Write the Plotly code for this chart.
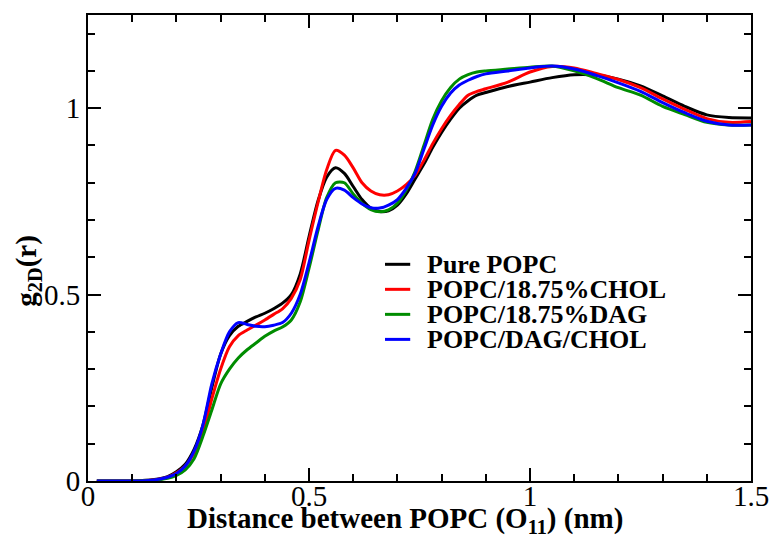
import plotly.graph_objects as go

x_nm = [0.02, 0.05, 0.1, 0.15, 0.18, 0.2, 0.22, 0.24, 0.26, 0.28, 0.3, 0.32, 0.34, 0.36, 0.38,
        0.4, 0.42, 0.44, 0.46, 0.48, 0.5, 0.52, 0.54, 0.56, 0.58, 0.6, 0.62, 0.64, 0.66, 0.68,
        0.7, 0.72, 0.74, 0.76, 0.78, 0.8, 0.82, 0.84, 0.86, 0.88, 0.9, 0.95, 1.0, 1.05, 1.1,
        1.15, 1.2, 1.25, 1.3, 1.35, 1.4, 1.45, 1.5]

pure_popc = [0, 0, 0, 0.004, 0.012, 0.025, 0.045, 0.085, 0.15, 0.25, 0.34, 0.39, 0.415, 0.428, 0.44,
             0.45, 0.462, 0.477, 0.5, 0.555, 0.655, 0.75, 0.815, 0.84, 0.825, 0.79, 0.755, 0.732, 0.723, 0.725,
             0.74, 0.77, 0.81, 0.85, 0.895, 0.935, 0.97, 1.0, 1.02, 1.035, 1.042, 1.058, 1.07, 1.082, 1.09,
             1.089, 1.078, 1.06, 1.033, 1.005, 0.982, 0.975, 0.974]

popc_chol = [0, 0, 0, 0.003, 0.01, 0.022, 0.04, 0.075, 0.13, 0.22, 0.3, 0.36, 0.39, 0.405, 0.418,
             0.432, 0.447, 0.462, 0.49, 0.54, 0.645, 0.745, 0.835, 0.887, 0.874, 0.84, 0.8, 0.778, 0.768, 0.768,
             0.778, 0.795, 0.82, 0.86, 0.905, 0.945, 0.98, 1.01, 1.035, 1.045, 1.052, 1.07, 1.097, 1.112, 1.108,
             1.093, 1.077, 1.055, 1.025, 0.997, 0.972, 0.962, 0.964]

popc_dag = [0, 0, 0, 0.002, 0.007, 0.015, 0.03, 0.06, 0.12, 0.19, 0.26, 0.3, 0.33, 0.352, 0.37,
            0.388, 0.402, 0.413, 0.432, 0.48, 0.57, 0.67, 0.76, 0.8, 0.8, 0.77, 0.745, 0.728, 0.722, 0.727,
            0.745, 0.78, 0.83, 0.9, 0.97, 1.02, 1.055, 1.078, 1.09, 1.097, 1.1, 1.105, 1.11, 1.113, 1.1,
            1.08, 1.055, 1.035, 1.005, 0.983, 0.962, 0.955, 0.955]

popc_dag_chol = [0, 0, 0, 0.003, 0.01, 0.02, 0.04, 0.08, 0.15, 0.26, 0.34, 0.4, 0.425, 0.42, 0.415,
                 0.414, 0.418, 0.425, 0.45, 0.5, 0.585, 0.68, 0.755, 0.785, 0.78, 0.76, 0.743, 0.733, 0.732, 0.74,
                 0.755, 0.785, 0.825, 0.89, 0.955, 1.005, 1.04, 1.062, 1.075, 1.085, 1.092, 1.1, 1.108, 1.113, 1.105,
                 1.088, 1.068, 1.045, 1.015, 0.988, 0.965, 0.955, 0.955]

series_names = ["Pure POPC", "POPC/18.75%CHOL", "POPC/18.75%DAG", "POPC/DAG/CHOL"]
series_values = [pure_popc, popc_chol, popc_dag, popc_dag_chol]
series_colors = ["#000000", "#ff0000", "#008c00", "#0000ff"]

x_tickvals = [0, 0.5, 1, 1.5]
x_ticktext = ["0", "0.5", "1", "1.5"]
y_tickvals = [0, 0.5, 1]
y_ticktext = ["0", "0.5", "1"]

serif = "Liberation Serif, Times New Roman, serif"

fig = go.Figure()
for name, vals, col in zip(series_names, series_values, series_colors):
    fig.add_trace(go.Scatter(x=x_nm, y=vals, mode="lines", name=name, showlegend=False,
                             line=dict(color=col, width=3, shape="spline", smoothing=0.8)))

# legend drawn as line samples + text in paper coordinates
leg_x0, leg_x1, leg_tx = 0.448, 0.486, 0.508
leg_y_top, leg_dy = 0.465, 0.0537
for i, (name, col) in enumerate(zip(series_names, series_colors)):
    yy = leg_y_top - i * leg_dy
    fig.add_shape(type="line", xref="paper", yref="paper", x0=leg_x0, x1=leg_x1, y0=yy, y1=yy,
                  line=dict(color=col, width=3))
    fig.add_annotation(xref="paper", yref="paper", x=leg_tx, y=yy, xanchor="left", yanchor="middle",
                       text="<b>" + name + "</b>", showarrow=False,
                       font=dict(family=serif, size=26, color="black"))

axis_common = dict(
    showline=True, linecolor="black", linewidth=2, mirror="allticks",
    ticks="inside", ticklen=13, tickwidth=2, tickcolor="black",
    showgrid=False, zeroline=False,
    tickfont=dict(family=serif, size=29, color="black"),
    minor=dict(ticks="inside", ticklen=7, tickwidth=2, tickcolor="black", dtick=0.1, showgrid=False),
)

fig.add_annotation(xref="paper", yref="paper", x=0.478, y=-0.083, xanchor="center", yanchor="middle",
                   text="<b>Distance between POPC (O<sub>11</sub>) (nm)</b>", showarrow=False,
                   font=dict(family=serif, size=29, color="black"))
fig.add_annotation(xref="paper", yref="paper", x=-0.09, y=0.45, xanchor="center", yanchor="middle",
                   text="<b>g<sub>2D</sub>(r)</b>", showarrow=False, textangle=-90,
                   font=dict(family=serif, size=29, color="black"))

fig.update_layout(
    width=774, height=548,
    margin=dict(l=88, r=23, t=15, b=67, autoexpand=False),
    paper_bgcolor="white", plot_bgcolor="white",
    showlegend=False,
    xaxis=dict(range=[0, 1.5], tickvals=x_tickvals, ticktext=x_ticktext,
               ticklabelstandoff=-12, **axis_common),
    yaxis=dict(range=[0, 1.25], tickvals=y_tickvals, ticktext=y_ticktext, **axis_common),
)

fig.write_html("out.html", post_script="document.body.style.margin='0';",
               config={"displayModeBar": False})
